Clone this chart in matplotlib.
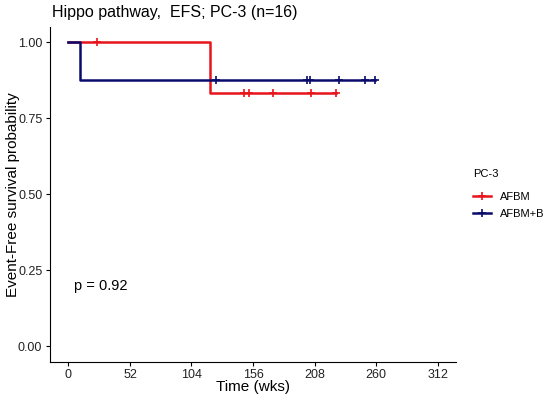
import numpy as np
import matplotlib
matplotlib.use("Agg")
import matplotlib.pyplot as plt
from matplotlib.lines import Line2D

plt.rcParams['font.family'] = ['Liberation Sans', 'DejaVu Sans']

# follow-up times (weeks) and event flags (1 = event, 0 = censored)
afbm_time = [24, 24, 120, 148, 153, 173, 205, 226]
afbm_event = [0, 0, 1, 0, 0, 0, 0, 0]
afbmb_time = [10, 125, 202, 204, 229, 251, 259, 259]
afbmb_event = [1, 0, 0, 0, 0, 0, 0, 0]

groups = ["AFBM", "AFBM+B"]
colors = ["#E8141B", "#0A0A6B"]
pval_text = "p = 0.92"
xticks = [0, 52, 104, 156, 208, 260, 312]
yticks = [0.0, 0.25, 0.5, 0.75, 1.0]


def km(times, events):
    t = np.array(times, float)
    e = np.array(events)
    order = np.argsort(t)
    t, e = t[order], e[order]
    xs, ys = [0.0], [1.0]
    s = 1.0
    cens_x, cens_y = [], []
    for ut in np.unique(t):
        at_risk = np.sum(t >= ut)
        d = np.sum((t == ut) & (e == 1))
        if d > 0:
            s *= 1 - d / at_risk
            xs.append(ut)
            ys.append(s)
        if np.any((t == ut) & (e == 0)):
            cens_x.append(ut)
            cens_y.append(s)
    xs.append(t.max())
    ys.append(s)
    return xs, ys, cens_x, cens_y


fig = plt.figure(figsize=(5.5, 4), dpi=100)
ax = fig.add_axes([50 / 550, 38.5 / 400, 406 / 550, 334.5 / 400])

for (tt, ee), col, name in zip([(afbm_time, afbm_event), (afbmb_time, afbmb_event)], colors, groups):
    xs, ys, cx, cy = km(tt, ee)
    ax.step(xs, ys, where='post', color=col, lw=1.8)
    ax.plot(cx, cy, ls='none', marker='+', ms=6, mew=1.2, color=col)

ax.text(5, 0.197, pval_text, fontsize=10.5, va='center', ha='left')

ax.set_xlim(-15.6, 327.6)
ax.set_ylim(-0.05, 1.05)
ax.set_xticks(xticks)
ax.set_yticks(yticks)
ax.set_yticklabels(["0.00", "0.25", "0.50", "0.75", "1.00"])
ax.tick_params(labelsize=9, length=3, pad=2.5, color='black', labelcolor='#222222')
for side in ['top', 'right']:
    ax.spines[side].set_visible(False)
ax.set_xlabel("Time (wks)", fontsize=11)
ax.set_ylabel("Event-Free survival probability", fontsize=11)
ax.xaxis.set_label_coords(0.5, -0.056)
ax.yaxis.set_label_coords(-0.074, 0.5)
fig.text(52 / 550, 1 - 13 / 400, "Hippo pathway,  EFS; PC-3 (n=16)", fontsize=11.5, va='center', ha='left')

handles = [Line2D([], [], color=c, lw=1.8, marker='+', ms=6, mew=1.2) for c in colors]
leg = ax.legend(handles, groups, title="PC-3", frameon=False, fontsize=8, title_fontsize=8,
                loc='center left', bbox_to_anchor=(1.018, 0.50), handlelength=1.6,
                labelspacing=0.7, alignment='left')
leg._legend_box.sep = 9

fig.savefig("out.png", dpi=100)
